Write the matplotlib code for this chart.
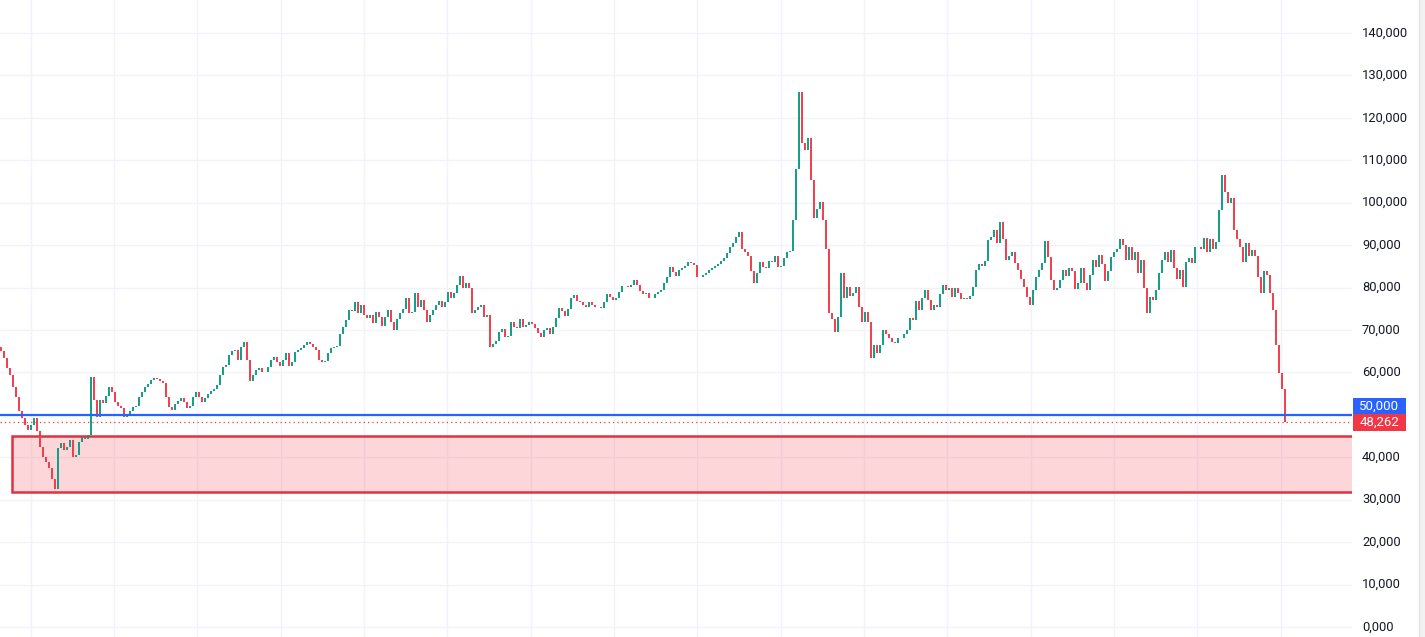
import numpy as np
import matplotlib
matplotlib.use("Agg")
import matplotlib.pyplot as plt
import matplotlib.transforms as mtransforms
from matplotlib.patches import Rectangle

# closes (thousands), one per bar
closes = [
    # 1st stretch
    65, 63.5, 61, 59.5, 56.6, 54.2, 50.8, 49.2, 47.5, 46.5, 47.5, 49.2,
    46.2, 42.5, 40, 39, 37.5, 35, 32.5, 42.2, 43.4, 41.7, 42.4, 44,
    40, 40.5, 43.5, 44.8, 44.2, 45.2, 59, 53.5, 49.5, 53.5, 52.8, 54.5,
    56.5, 55.5, 53, 52, 51.6, 49.5, 50, 51, 51.9, 52, 54.2, 55.5,
    56.5, 57.3, 58.2, 58.7, 58.5, 58, 57.5, 54.2, 51.9, 51.2, 52.5, 53.2,
    54, 53, 51.5, 52, 54.2, 55.4, 54.2, 53, 54, 55, 55.6, 56.2,
    # 2nd
    57, 59.5, 61.3, 61.8, 64, 65, 65.3, 63, 66, 67.2, 63, 58,
    59.5, 60.5, 61, 60, 60.2, 61.3, 62.9, 63.6, 62.5, 61.5, 63, 64.5,
    61.5, 62.5, 64.8, 65.3, 65.8, 66.5, 67.2, 66.7, 66, 65.3, 63, 62.5,
    62.8, 64.5, 65.8, 66, 66.2, 69, 70.7, 72.4, 74.7, 74.5, 76.5, 74,
    75.9, 73.5, 72.8, 73.6, 71.6, 74.2, 73.1, 71, 73, 74.7, 71.9, 70,
    72.5, 74, 75, 77.5, 74, 74.3, 78.8, 75.4, 77, 74.7, 72, 73.5,
    # 3rd
    74.8, 76, 76.8, 75.5, 76.5, 79, 77.5, 78.7, 80.5, 82.8, 80, 81.1,
    80, 74, 74.8, 75.4, 75.9, 73.1, 73.5, 66, 66.8, 67.5, 69.5, 70.2,
    68.3, 68.5, 72, 70.8, 70.5, 72.5, 70.8, 71.2, 72, 71.5, 70.5, 69.3,
    68.3, 70, 70.5, 69, 70.8, 72.8, 75.2, 74.5, 73.4, 75, 77.5, 78.2,
    76.8, 76.6, 75.9, 75.4, 76.6, 76, 75.4, 75.4, 75.2, 76.5, 78.5, 77.8,
    77.1, 77.5, 79, 80.3, 80.4, 80.1, 80.6, 81.8, 80.5, 79.3, 78.5,
    # 4th
    78.7, 77.5, 77.6, 78.4, 79, 79.4, 81.1, 82.5, 84.8, 83.6, 82.8, 84.2,
    84.7, 85, 86, 85.8, 85.3, 82.5, 82.4, 83, 83.4, 84.1, 84.6, 85.2,
    85.6, 86.2, 87, 88.2, 89.6, 90.5, 91.9, 93.1, 89, 88.4, 87.5, 84,
    81, 83.5, 86, 84.8, 84.5, 86.3, 86, 87.5, 84.8, 85.2, 87, 88.5,
    88.6, 95.9, 108, 126, 114, 112.5, 115.2, 105.3, 96.5, 98.5, 100.2, 95.9,
    89, 74, 72.5, 69.5, 73.1, 83.5, 77.5, 80.1, 78, 78.7, 80.1, 75.5,
    # 5th
    72, 74.2, 72, 63.5, 66.5, 64.5, 66.5, 70, 69, 68, 67.2, 67,
    68, 68.2, 69, 70, 72.8, 72.4, 76.8, 74.8, 77.5, 79.5, 77, 74.7,
    76, 75.5, 78.5, 80.5, 79.4, 79.8, 77.8, 79.8, 78.7, 77.2, 77.5, 77.4,
    78, 80.2, 84.1, 85.5, 85, 86.3, 91.2, 92, 93.6, 90.5, 95.5, 91.5,
    86.5, 87.5, 88.5, 85.8, 84.1, 82, 80.1, 77.8, 75.8, 79.5, 82.5, 84.1,
    85.8, 91, 87.2, 81.8, 79.4, 79.8, 81.8, 84.1, 82.8, 84.5, 84, 79.6,
    # 6th
    81, 84.5, 81.1, 79.5, 83, 86.5, 84.8, 87.7, 85.5, 81.5, 84, 87.2,
    88.5, 89, 91.5, 90, 86.5, 89.6, 86.5, 88.5, 83.5, 86.5, 80, 74,
    77.8, 77, 79.4, 83.4, 86.5, 88.5, 86, 88.8, 84.5, 82, 84.1, 80.1,
    86, 87, 85.8, 89.6, 89.5, 89.2, 91.7, 88.5, 91.5, 89, 90.7, 98.3,
    106.5, 102.5, 100, 101, 93.5, 91.5, 89.5, 86, 90.5, 87.5, 88.8, 87.5,
    82.5, 78.7, 84, 83, 78.7, 74.7, 66.5, 59.9, 56, 48.262,
]
first_open = 66.0

tick_values = [0, 10, 20, 30, 40, 50, 60, 70, 80, 90, 100, 110, 120, 130, 140]
tick_labels = ["0,000", "10,000", "20,000", "30,000", "40,000", "50,000", "60,000",
               "70,000", "80,000", "90,000", "100,000", "110,000", "120,000",
               "130,000", "140,000"]

level_value = 50.0
level_label = "50,000"
last_value = 48.262
last_label = "48,262"
zone_low, zone_high = 31.8, 45.0

UP = "#089981"
DOWN = "#F23645"
BLUE = "#2962FF"
GRID = "#f0f3fa"

W, H = 1425, 637
PLOT_R = 1352

fig = plt.figure(figsize=(W / 100, H / 100), dpi=100)
fig.patch.set_facecolor("white")
ax = fig.add_axes([0, 0, PLOT_R / W, 1])
ax.set_facecolor("white")

px_per_bar = 3.0
n = len(closes)
x = np.arange(n)
c = np.array(closes)
o = np.concatenate([[first_open], c[:-1]])
cols = [UP if cc >= oo else DOWN for oo, cc in zip(o, c)]

ax.set_xlim(-0.2, PLOT_R / px_per_bar - 0.2)
px_per_k = 594 / 140.0
ax.set_ylim(-10 / px_per_k, 627 / px_per_k)

# grid
for v in tick_values:
    ax.axhline(v, color=GRID, lw=1, zorder=0)
for gx in np.arange(10, n, 27.78):
    ax.axvline(gx, color=GRID, lw=1, zorder=0)

# zone
ax.add_patch(Rectangle((11 / px_per_bar, zone_low), PLOT_R / px_per_bar, zone_high - zone_low,
                       facecolor="#F23645", alpha=0.2, edgecolor="none", zorder=1))
ax.add_patch(Rectangle((11 / px_per_bar, zone_low), PLOT_R / px_per_bar, zone_high - zone_low,
                       facecolor="none", edgecolor="#E0323F", lw=1.8, zorder=1.5))

# candles
ax.vlines(x, np.minimum(o, c), np.maximum(o, c), colors=cols, lw=1.35, zorder=3)

# levels
ax.axhline(level_value, color=BLUE, lw=1.6, zorder=4)
ax.axhline(last_value, color=DOWN, lw=0.9, ls=(0, (1, 2.5)), zorder=2)

for s in ax.spines.values():
    s.set_visible(False)
ax.set_xticks([])
ax.set_yticks([])

# right price scale
tr = mtransforms.blended_transform_factory(fig.transFigure, ax.transData)
for v, lab in zip(tick_values, tick_labels):
    if v == level_value:
        continue
    ax.text(1362 / W, v, lab, transform=tr, ha="left", va="center",
            fontsize=9.3, family="Roboto", color="#131722", clip_on=False)

bx0, bw = 1353 / W, 53 / W
ax.add_patch(Rectangle((bx0, level_value + 0.7 / px_per_k), bw, 16 / px_per_k, transform=tr,
                       facecolor=BLUE, edgecolor="none", clip_on=False, zorder=5))
ax.text(bx0 + bw / 2, level_value + 8.7 / px_per_k, level_label, transform=tr, ha="center",
        va="center", fontsize=9.5, family="Roboto", color="white", clip_on=False, zorder=6)
ax.add_patch(Rectangle((bx0, last_value - 8.5 / px_per_k), bw, 17 / px_per_k, transform=tr,
                       facecolor=DOWN, edgecolor="none", clip_on=False, zorder=5))
ax.text(bx0 + bw / 2, last_value, last_label, transform=tr, ha="center",
        va="center", fontsize=9.5, family="Roboto", color="white", clip_on=False, zorder=6)

# right border strip
fig.patches.append(Rectangle((1419 / W, 0), 6 / W, 1, transform=fig.transFigure,
                             facecolor="#f2f2f2", edgecolor="none"))
fig.lines.append(plt.Line2D([1419 / W, 1419 / W], [0, 1], transform=fig.transFigure,
                            color="#e0e3eb", lw=1))

fig.savefig("out.png", dpi=100)
